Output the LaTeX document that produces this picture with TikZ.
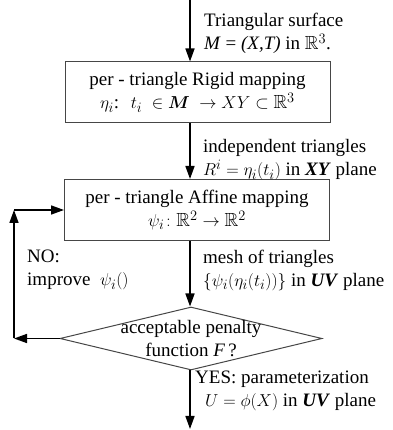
\documentclass[tikz,border=0pt]{standalone}
\usepackage{amsmath}
\usepackage{amssymb}
\usepackage{fontspec}
\setmainfont{Liberation Serif}
\usepackage{tikz}
\usetikzlibrary{arrows.meta,shapes.geometric}
\definecolor{boxgray}{RGB}{70,70,70}

\begin{document}
\begin{tikzpicture}[x=1pt,y=1pt,font=\fontsize{19}{23}\selectfont,
  >={Triangle[length=13pt,width=9pt]},
  flow/.style={->,line width=1.6pt},
  stepbox/.style={draw=boxgray,line width=1pt,minimum width=265pt,minimum height=61pt,align=center,inner sep=0pt},
  decision/.style={draw=boxgray,line width=1pt,diamond,minimum width=262pt,minimum height=63pt,inner sep=0pt},
  note/.style={anchor=west,align=left,inner sep=0pt}]
\useasboundingbox (0,0) rectangle (392,430);
\coordinate (in) at (190,430);
\node[stepbox] (rigid) at (197.5,337.5) {per - triangle Rigid mapping\\ $\eta_i$:\; $t_i\;\in\boldsymbol{M}\;\to XY\subset\mathbb{R}^3$};
\node[stepbox] (affine) at (197,220) {per - triangle Affine mapping\\ $\psi_i\colon\mathbb{R}^2\to\mathbb{R}^2$};
\node[decision] (test) at (191,91.5) {};
\node[align=center,inner sep=0pt] (testtext) at (191,91.5) {acceptable penalty\\ function \textit{F}\,?};
\coordinate (out) at (190,1);
\coordinate (back) at (14,91.5);
\coordinate (backup) at (14,220);
\draw[flow] (in) -- (in |- rigid.north);
\draw[flow] (rigid.south -| in) -- (affine.north -| in);
\draw[flow] (affine.south -| in) -- (test.north -| in);
\draw[flow] (test.south -| in) -- (out);
% NO branch back to the affine step
\draw[flow] (test.west) -- (back);
\draw[flow] (back) -- (backup);
\draw[flow] (backup) -- (affine.west);
\node[note] (surface) at (204,396.5) {Triangular surface\\ \textit{M} = \textit{(X,T)} in $\mathbb{R}^3$.};
\node[note] (indep) at (203,270) {independent triangles\\ $R^i=\eta_i(t_i)$ in \textbf{\textit{XY}} plane};
\node[note] (mesh) at (203,160) {mesh of triangles\\ $\{\psi_i(\eta_i(t_i))\}$ in \textbf{\textit{UV}} plane};
\node[note] (no) at (27,160) {NO:\\ improve\ \ $\psi_i()$};
\node[note] (yes) at (195,39) {YES: parameterization\\ \hspace*{10pt}$U=\phi(X)$ in \textbf{\textit{UV}} plane};
\end{tikzpicture}
\end{document}
